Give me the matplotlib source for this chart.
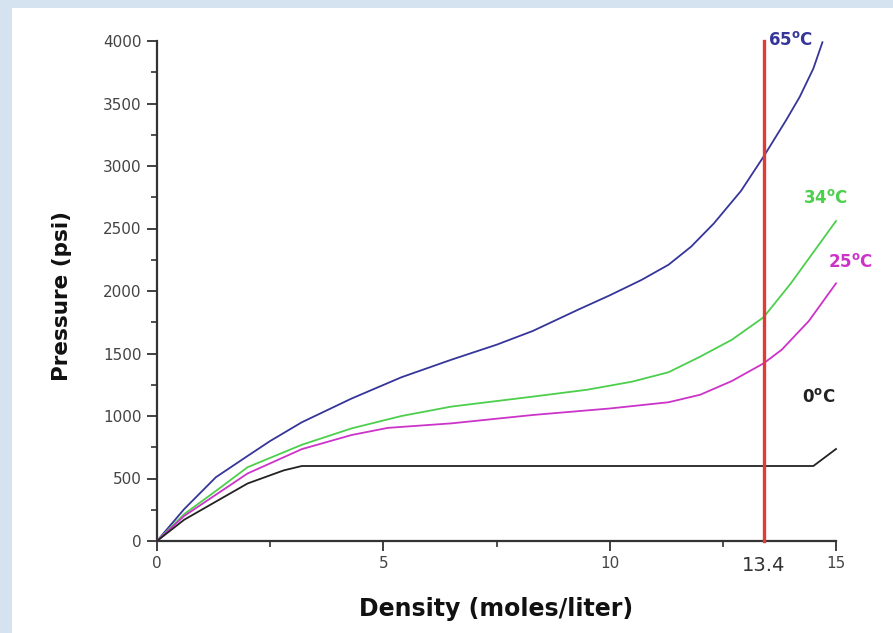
import matplotlib
matplotlib.use("Agg")
import matplotlib.pyplot as plt
from matplotlib.patches import Rectangle
from matplotlib.ticker import MultipleLocator

# CO2 isotherms: pressure vs density
rho_65 = [0, 0.6, 1.3, 2.0, 2.5, 3.2, 4.3, 5.4, 6.5, 7.5, 8.3, 9.3, 10.0, 10.7, 11.3,
          11.8, 12.3, 12.9, 13.4, 13.9, 14.2, 14.5, 14.7]
p_65 = [0, 255, 510, 680, 800, 950, 1140, 1310, 1450, 1570, 1680, 1850, 1965, 2088, 2210,
        2355, 2540, 2800, 3075, 3368, 3554, 3780, 3990]

rho_34 = [0, 0.6, 1.3, 2.0, 3.2, 4.3, 5.4, 6.5, 8.3, 9.5, 10.5, 11.3, 12.0, 12.7, 13.4,
          14.0, 14.5, 15.0]
p_34 = [0, 215, 400, 590, 770, 901, 1000, 1075, 1155, 1210, 1275, 1350, 1475, 1610, 1790,
        2060, 2310, 2560]

rho_25 = [0, 0.6, 1.3, 2.0, 3.2, 4.3, 5.1, 6.5, 8.3, 10.0, 11.3, 12.0, 12.7, 13.4, 13.8,
          14.4, 15.0]
p_25 = [0, 200, 370, 540, 735, 848, 905, 941, 1008, 1060, 1110, 1170, 1280, 1421, 1530,
        1760, 2061]

rho_0 = [0, 0.6, 1.3, 2.0, 2.8, 3.2, 14.5, 15.0]
p_0 = [0, 170, 315, 460, 565, 600, 600, 736]

rho_mark = 13.4
x_ticks = [0, 5, 10, 13.4, 15]
x_tick_labels = ["0", "5", "10", "13.4", "15"]
y_ticks = [0, 500, 1000, 1500, 2000, 2500, 3000, 3500, 4000]

series = [
    (rho_65, p_65, "#35359a", r"65$^{\mathbf{o}}$C", (13.5, 4008)),
    (rho_34, p_34, "#4ccf4c", r"34$^{\mathbf{o}}$C", (14.27, 2744)),
    (rho_25, p_25, "#cc33c8", r"25$^{\mathbf{o}}$C", (14.82, 2232)),
    (rho_0, p_0, "#222222", r"0$^{\mathbf{o}}$C", (14.25, 1152)),
]

fig = plt.figure(figsize=(8.93, 6.33), dpi=100)
fig.patch.set_facecolor("#d5e3f1")
panel = Rectangle((12 / 893, 0), 1, 1 - 8 / 633, transform=fig.transFigure,
                  facecolor="white", edgecolor="none", zorder=-10)
fig.add_artist(panel)

ax = fig.add_axes([157 / 893, 1 - 541 / 633, 679 / 893, 500 / 633])
ax.set_facecolor("none")

for x, y, c, lab, pos in series:
    ax.plot(x, y, color=c, lw=1.3, clip_on=False, zorder=3, solid_joinstyle="round")
    ax.text(pos[0], pos[1], lab, color=c, fontsize=12, fontweight="bold",
            ha="left", va="center", family="DejaVu Sans")

ax.plot([rho_mark, rho_mark], [0, 4000], color="#e23a35", lw=2.4, clip_on=False, zorder=4)

ax.set_xlim(0, 15)
ax.set_ylim(0, 4000)
ax.set_xticks(x_ticks)
ax.set_xticklabels(x_tick_labels)
ax.set_yticks(y_ticks)
ax.xaxis.set_minor_locator(MultipleLocator(2.5))
ax.yaxis.set_minor_locator(MultipleLocator(250))

for s in ["top", "right"]:
    ax.spines[s].set_visible(False)
for s in ["left", "bottom"]:
    ax.spines[s].set_color("#333333")
    ax.spines[s].set_linewidth(1.6)

ax.tick_params(which="major", direction="out", length=7, width=1.3, color="#333333",
               labelsize=11, labelcolor="#444444", pad=4)
ax.tick_params(which="minor", direction="out", length=4, width=1.2, color="#333333")

for t, lbl in zip(ax.xaxis.get_major_ticks(), ax.get_xticklabels()):
    if lbl.get_text() == "13.4":
        t.tick1line.set_visible(False)
        lbl.set_fontsize(14)
        lbl.set_color("#333333")

ax.set_xlabel("Density (moles/liter)", fontsize=17, fontweight="bold", color="#111111")
ax.set_ylabel("Pressure (psi)", fontsize=15.5, fontweight="bold", color="#111111")
ax.xaxis.set_label_coords(0.5, -0.112)
ax.yaxis.set_label_coords(-0.125, 0.49)

fig.savefig("out.png", dpi=100)
